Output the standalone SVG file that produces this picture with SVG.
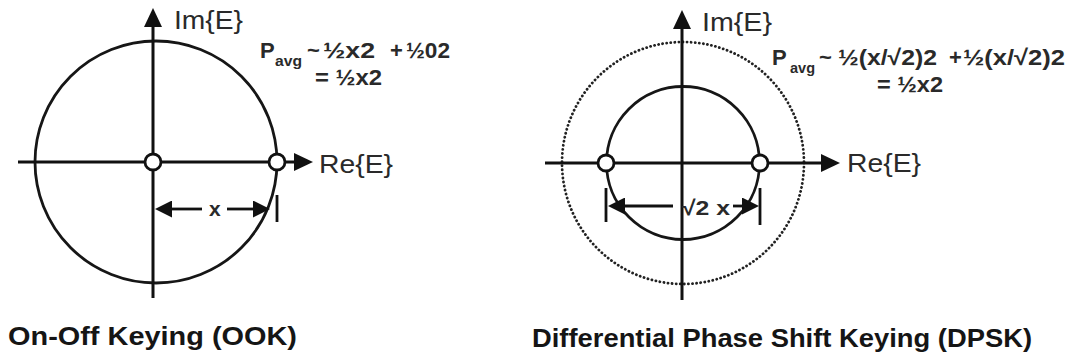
<svg xmlns="http://www.w3.org/2000/svg" width="1073" height="360" viewBox="0 0 1073 360">
<style>
  .ring{fill:none;stroke:#161616;stroke-width:2.8}
  .dots{fill:none;stroke:#222;stroke-width:2.8;stroke-dasharray:0.1 4;stroke-linecap:round}
  .axis{fill:none;stroke:#111;stroke-width:3}
  .dim{fill:none;stroke:#111;stroke-width:2.8}
  .pt{fill:#fff;stroke:#111;stroke-width:2.8}
  .ax{font-family:"Liberation Sans",Arial,sans-serif;font-size:26px;fill:#2a2a2a}
  .eq{font-family:"Liberation Sans",Arial,sans-serif;font-size:22px;font-weight:bold;fill:#2a2a2a}
  .sub{font-size:14px}
  .lbl{font-family:"Liberation Sans",Arial,sans-serif;font-size:21px;font-weight:bold;fill:#2a2a2a}
  .title{font-family:"Liberation Sans",Arial,sans-serif;font-size:26px;font-weight:bold;fill:#151515}
</style>
<defs>
  <marker id="axhead" markerUnits="userSpaceOnUse" viewBox="0 0 19 18" refX="9" refY="9" markerWidth="19" markerHeight="18" orient="auto">
    <path d="M0,0 L19,9 L0,18 Z" fill="#111"/>
  </marker>
  <marker id="dimhead" markerUnits="userSpaceOnUse" viewBox="0 0 17 17" refX="0" refY="8.5" markerWidth="17" markerHeight="17" orient="auto-start-reverse">
    <path d="M0,0 L17,8.5 L0,17 Z" fill="#111"/>
  </marker>
</defs>
<rect width="1073" height="360" fill="#fff"/>

<!-- OOK diagram -->
<g id="ook">
  <circle class="ring" cx="156" cy="162" r="121"/>
  <g id="ook-axes">
    <line class="axis" x1="153" y1="298" x2="153" y2="18" marker-end="url(#axhead)"/>
    <line class="axis" x1="18" y1="162" x2="303" y2="162" marker-end="url(#axhead)"/>
  </g>
  <g id="ook-points">
    <circle class="pt" cx="153" cy="162" r="8"/>
    <circle class="pt" cx="277" cy="162" r="8"/>
  </g>
  <g id="ook-dim">
    <line class="dim" x1="172" y1="209" x2="202" y2="209" marker-start="url(#dimhead)"/>
    <line class="dim" x1="227" y1="209" x2="253" y2="209" marker-end="url(#dimhead)"/>
    <line class="dim" x1="277" y1="195" x2="277" y2="222"/>
    <text class="lbl" x="209" y="216">x</text>
  </g>
  <text class="ax" x="174" y="29" textLength="69" lengthAdjust="spacingAndGlyphs">Im{E}</text>
  <text class="ax" x="319" y="173" textLength="74" lengthAdjust="spacingAndGlyphs">Re{E}</text>
  <text class="eq" y="58"><tspan x="260">P</tspan><tspan class="sub" x="275" y="66" textLength="27" lengthAdjust="spacingAndGlyphs">avg</tspan><tspan x="307" y="58">~</tspan><tspan x="323" textLength="52" lengthAdjust="spacingAndGlyphs">½x2</tspan><tspan x="390">+</tspan><tspan x="406" textLength="44" lengthAdjust="spacingAndGlyphs">½02</tspan></text>
  <text class="eq" x="315" y="85" textLength="67" lengthAdjust="spacingAndGlyphs">= ½x2</text>
  <text class="title" x="8" y="345" textLength="289" lengthAdjust="spacingAndGlyphs">On-Off Keying (OOK)</text>
</g>

<!-- DPSK diagram -->
<g id="dpsk">
  <circle class="dots" cx="683" cy="163" r="121"/>
  <circle class="ring" cx="683" cy="163" r="76.5"/>
  <g id="dpsk-axes">
    <line class="axis" x1="682" y1="300" x2="682" y2="20" marker-end="url(#axhead)"/>
    <line class="axis" x1="545" y1="163" x2="830" y2="163" marker-end="url(#axhead)"/>
  </g>
  <g id="dpsk-points">
    <circle class="pt" cx="606" cy="163" r="8"/>
    <circle class="pt" cx="760" cy="163" r="8"/>
  </g>
  <g id="dpsk-dim">
    <line class="dim" x1="625" y1="206" x2="673" y2="206" marker-start="url(#dimhead)"/>
    <line class="dim" x1="733" y1="206" x2="742" y2="206" marker-end="url(#dimhead)"/>
    <line class="dim" x1="606" y1="188" x2="606" y2="222"/>
    <line class="dim" x1="760" y1="188" x2="760" y2="225"/>
    <text class="lbl" x="682" y="215" textLength="48" lengthAdjust="spacingAndGlyphs">√2 x</text>
  </g>
  <text class="ax" x="702" y="31" textLength="70" lengthAdjust="spacingAndGlyphs">Im{E}</text>
  <text class="ax" x="847" y="172" textLength="74" lengthAdjust="spacingAndGlyphs">Re{E}</text>
  <text class="eq" y="65"><tspan x="772">P</tspan><tspan class="sub" x="790" y="73" textLength="25" lengthAdjust="spacingAndGlyphs">avg</tspan><tspan x="819" y="65">~</tspan><tspan x="838" textLength="99" lengthAdjust="spacingAndGlyphs">½(x/√2)2</tspan><tspan x="949">+</tspan><tspan x="963" textLength="102" lengthAdjust="spacingAndGlyphs">½(x/√2)2</tspan></text>
  <text class="eq" x="877" y="92" textLength="66" lengthAdjust="spacingAndGlyphs">= ½x2</text>
  <text class="title" x="532" y="347" textLength="500" lengthAdjust="spacingAndGlyphs">Differential Phase Shift Keying (DPSK)</text>
</g>
</svg>
